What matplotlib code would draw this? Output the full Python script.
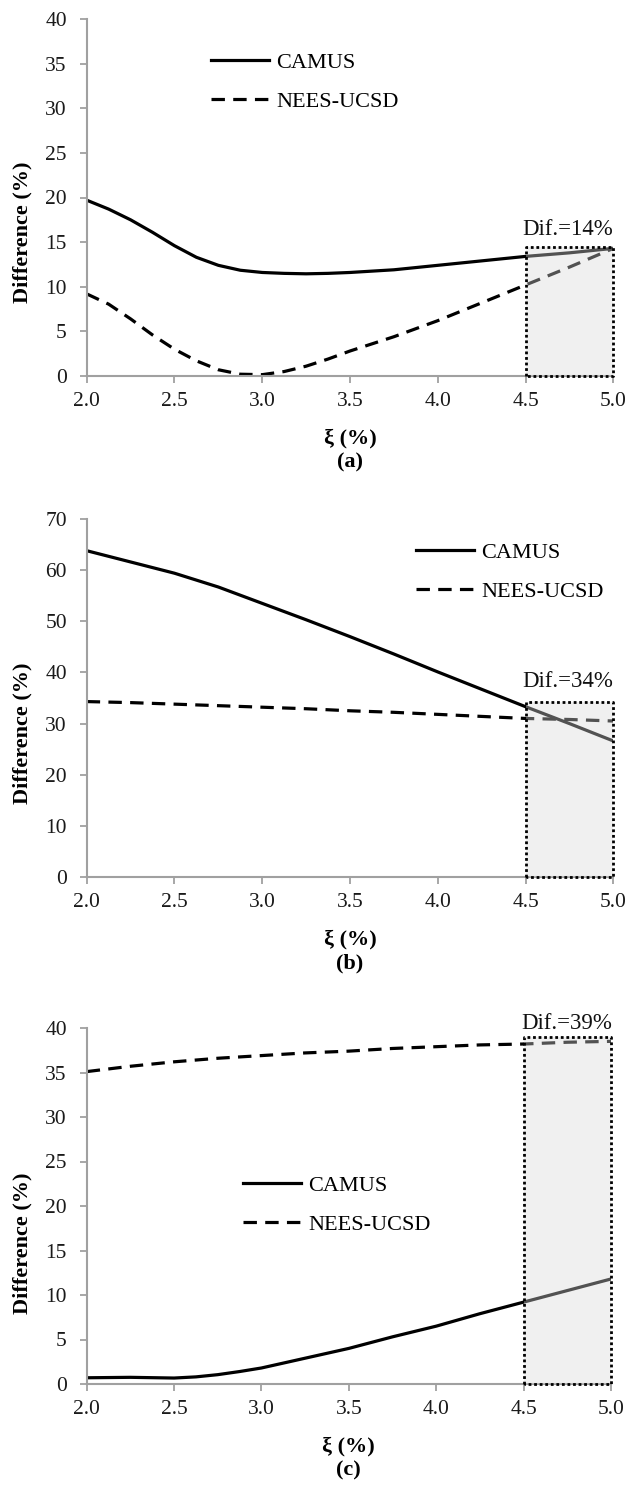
import matplotlib
matplotlib.use("Agg")
import matplotlib.pyplot as plt
import numpy as np

plt.rcParams['font.family'] = ['Liberation Serif', 'DejaVu Serif']

# ---------------- data ----------------
xi_a = [2.0, 2.125, 2.25, 2.375, 2.5, 2.625, 2.75, 2.875, 3.0, 3.125, 3.25, 3.375,
        3.5, 3.75, 4.0, 4.25, 4.5, 4.75, 5.0]
camus_a = [19.7, 18.7, 17.5, 16.1, 14.6, 13.3, 12.4, 11.85, 11.6, 11.5, 11.45, 11.5,
           11.6, 11.9, 12.4, 12.9, 13.4, 13.8, 14.3]
nees_a = [9.2, 8.05, 6.4, 4.6, 3.0, 1.7, 0.7, 0.2, 0.15, 0.5, 1.1, 1.9,
          2.8, 4.4, 6.2, 8.2, 10.2, 12.2, 14.3]

xi_b = [2.0, 2.25, 2.5, 2.75, 3.0, 3.25, 3.5, 3.75, 4.0, 4.25, 4.5, 4.75, 5.0]
camus_b = [63.8, 61.6, 59.4, 56.7, 53.5, 50.3, 47.0, 43.6, 40.1, 36.7, 33.3, 30.0, 26.6]
nees_b = [34.3, 34.1, 33.8, 33.5, 33.2, 32.9, 32.5, 32.2, 31.8, 31.4, 31.0, 30.8, 30.5]

xi_c = [2.0, 2.25, 2.5, 2.625, 2.75, 2.875, 3.0, 3.25, 3.5, 3.75, 4.0, 4.25, 4.5, 4.75, 5.0]
camus_c = [0.7, 0.75, 0.67, 0.8, 1.05, 1.4, 1.8, 2.9, 4.0, 5.3, 6.5, 7.9, 9.2, 10.5, 11.8]
nees_c = [35.1, 35.7, 36.2, 36.4, 36.6, 36.75, 36.9, 37.2, 37.4, 37.7, 37.9, 38.1, 38.2,
          38.4, 38.5]

box_x = [4.5, 5.0]
box_top = [14.5, 34.3, 39.0]
dif_labels = ["Dif.=14%", "Dif.=34%", "Dif.=39%"]
panel_labels = ["(a)", "(b)", "(c)"]
ylims = [(0, 40), (0, 70), (0, 40)]
ysteps = [5, 10, 5]
xticks = [2.0, 2.5, 3.0, 3.5, 4.0, 4.5, 5.0]
xtick_labels = ["2.0", "2.5", "3.0", "3.5", "4.0", "4.5", "5.0"]
series_names = ["CAMUS", "NEES-UCSD"]

# ---------------- layout (pixels) ----------------
W, H = 630, 1491
fig = plt.figure(figsize=(W / 100, H / 100), dpi=100)

def fy(py):
    return 1 - py / H

axes_px = [  # left, right, top, bottom
    (86.7, 613.3, 19, 376),
    (86.7, 613.3, 519, 877),
    (86.7, 611.0, 1028, 1384),
]
legend_px = [(211, 82), (416, 572), (243, 1205)]
dif_offset_pt = [12.0, 14.5, 9.5]
ylabel_cy = [232, 733, 1243]

GRAY = '#a0a0a0'
FS = 16

xi_all = [xi_a, xi_b, xi_c]
camus_all = [camus_a, camus_b, camus_c]
nees_all = [nees_a, nees_b, nees_c]

for i in range(3):
    l, r, t, b = axes_px[i]
    ax = fig.add_axes([l / W, fy(b), (r - l) / W, (b - t) / H])
    ax.plot(xi_all[i], camus_all[i], color='black', lw=2.3, solid_joinstyle='round',
            label=series_names[0], zorder=2)
    ax.plot(xi_all[i], nees_all[i], color='black', lw=2.3, dashes=(4.2, 2.6),
            label=series_names[1], zorder=2)
    # shaded region
    ax.fill_between(box_x, 0, box_top[i], color='#d8d8d8', alpha=0.38,
                    lw=0, zorder=3)
    ax.plot([box_x[0], box_x[0], box_x[1], box_x[1], box_x[0]],
            [0, box_top[i], box_top[i], 0, 0], color='black', lw=2.0,
            dashes=(1, 1), zorder=4, clip_on=False)
    ax.annotate(dif_labels[i], xy=(box_x[0], box_top[i]), xytext=(-2, dif_offset_pt[i]),
                textcoords='offset points', ha='left', va='center', fontsize=16.5,
                color='#111111')

    ax.set_xlim(2.0, 5.0)
    ax.set_ylim(*ylims[i])
    ax.set_xticks(xticks)
    ax.set_xticklabels(xtick_labels)
    ax.set_yticks(np.arange(ylims[i][0], ylims[i][1] + 0.1, ysteps[i]))
    for s in ['top', 'right']:
        ax.spines[s].set_visible(False)
    for s in ['left', 'bottom']:
        ax.spines[s].set_color(GRAY)
        ax.spines[s].set_linewidth(1.5)
    ax.tick_params(axis='both', direction='out', length=4.8, width=1.3, color=GRAY,
                   labelsize=15.5, labelcolor='#1a1a1a')
    ax.tick_params(axis='y', pad=9.5)
    ax.tick_params(axis='x', pad=6.5)

    lx, ly = legend_px[i]
    ax.legend(loc='center left', bbox_to_anchor=(lx / W, fy(ly)),
              bbox_transform=fig.transFigure, frameon=False, fontsize=FS,
              handlelength=2.6, handletextpad=0.35, labelspacing=0.85,
              borderpad=0, borderaxespad=0)

    cx = (l + r) / 2
    fig.text(cx / W, fy(b + 62), "ξ (%)", ha='center', va='center', fontsize=FS,
             fontweight='bold', family=['Liberation Serif', 'DejaVu Serif'])
    fig.text(cx / W, fy(b + 86), panel_labels[i], ha='center', va='center',
             fontsize=FS, fontweight='bold')
    fig.text(22 / W, fy(ylabel_cy[i]), "Difference (%)", rotation=90, ha='center',
             va='center', fontsize=16, fontweight='bold')

fig.savefig("out.png", dpi=100)
